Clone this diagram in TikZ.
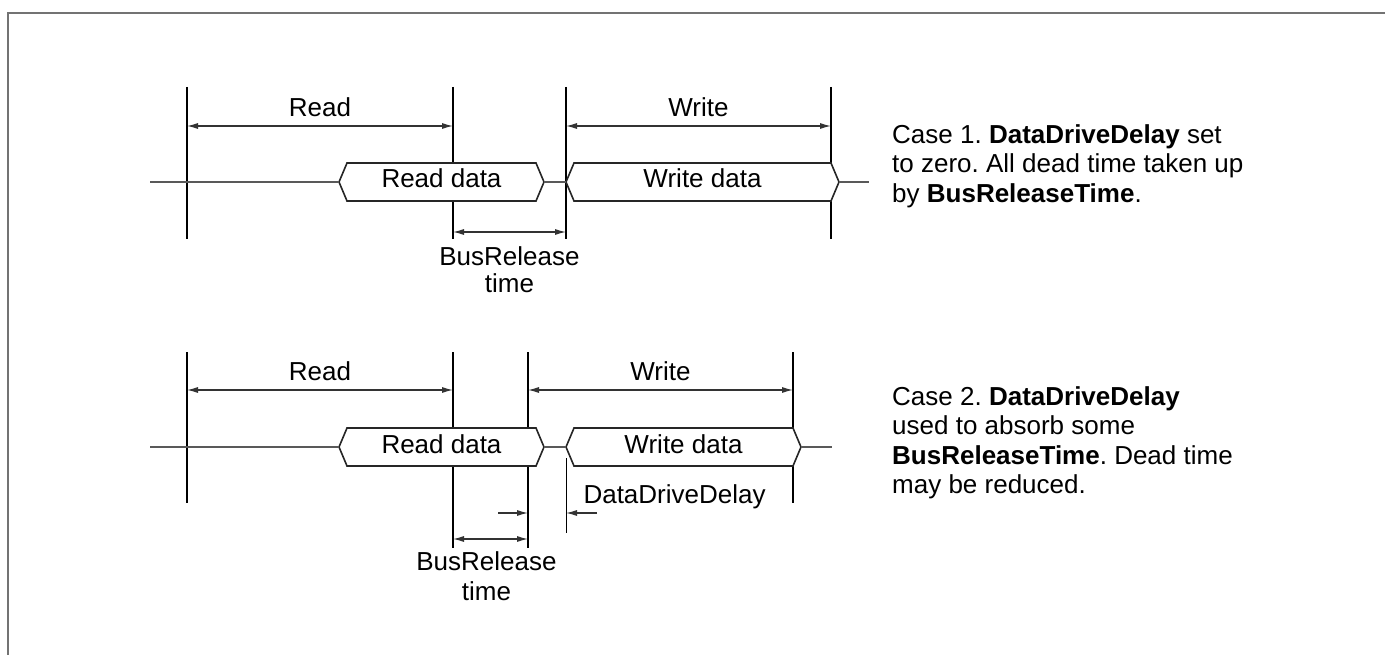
\documentclass[tikz,border=0pt]{standalone}
\usepackage{fontspec}
\setmainfont{Liberation Sans}
\usetikzlibrary{arrows.meta}
\frenchspacing

\tikzset{
 cadre/.style={line width=2.5pt, black!55},
 borne/.style={line width=1.8pt, black},
 repere/.style={line width=1pt, black},
 signal/.style={line width=1.2pt, black!65},
 cote/.style={line width=1.2pt, black!80, {Latex[length=11pt,width=6pt]}-{Latex[length=11pt,width=6pt]}},
 demi/.style={line width=1.2pt, black!80, -{Latex[length=11pt,width=6pt]}},
 busbord/.style={line width=1.6pt, black!85, fill=white},
 texte/.style={text=black, font=\fontsize{26}{29.5}\selectfont},
}

% bus : nom, x gauche, x droite, y, texte
\newcommand{\busdonnees}[5]{%
 \draw[busbord] (#2,#4) -- ({#2+8},{#4-19}) -- ({#3-8},{#4-19}) -- (#3,#4)
  -- ({#3-8},{#4+19}) -- ({#2+8},{#4+19}) -- cycle;
 \coordinate (#1g) at (#2,#4);
 \coordinate (#1d) at (#3,#4);
 \node[texte, anchor=base] (#1) at ({(#2+#3)/2},{#4+6}) {#5};
}

\begin{document}
\begin{tikzpicture}[x=1pt, y=-1pt]
 \useasboundingbox (0,0) rectangle (1385,655);

	% Cadre
 \draw[cadre] (8,655) -- (8,13) -- (1385,13);

	% Cas 1 : bornes
 \coordinate (a1) at (187,87);  \coordinate (a1b) at (187,239);
 \coordinate (b1) at (453,87);  \coordinate (b1b) at (453,239);
 \coordinate (c1) at (566,87);  \coordinate (c1b) at (566,239);
 \coordinate (d1) at (831,87);  \coordinate (d1b) at (831,239);
 \coordinate (hc1) at (0,126);
 \coordinate (hr1) at (0,232);
 \coordinate (g1) at (150,182);
 \coordinate (f1) at (869,182);

 \draw[borne] (a1) -- (a1b);
 \draw[borne] (b1) -- (b1b);
 \draw[borne] (c1) -- (c1b);
 \draw[borne] (d1) -- (d1b);

	% Cas 1 : bus
 \busdonnees{lec1}{339}{544}{182}{Read data}
 \busdonnees{ecr1}{566}{839}{182}{Write data}
 \draw[signal] (g1) -- (lec1g);
 \draw[signal] (lec1d) -- (ecr1g);
 \draw[signal] (ecr1d) -- (f1);

	% Cas 1 : cotes
 \draw[cote] (a1 |- hc1) -- (b1 |- hc1) node[midway, above=5pt, texte] (lire1) {Read};
 \draw[cote] (c1 |- hc1) -- (d1 |- hc1) node[midway, above=5pt, texte] (ecrire1) {Write};
 \draw[cote] (b1 |- hr1) -- (c1 |- hr1) node[midway, below=11pt, texte, align=center] (rel1) {BusRelease\\[-2.5pt]time};

 \node[texte, anchor=north west, inner sep=0, align=left] (cas1) at (892,124)
  {Case 1. \textbf{DataDriveDelay} set\\to zero. All dead time taken up\\by \textbf{BusReleaseTime}.};

	% Cas 2 : bornes
 \coordinate (a2) at (187,352);  \coordinate (a2b) at (187,503);
 \coordinate (b2) at (453,352);  \coordinate (b2b) at (453,548);
 \coordinate (c2) at (528,352);  \coordinate (c2b) at (528,548);
 \coordinate (d2) at (793,352);  \coordinate (d2b) at (793,503);
 \coordinate (e2) at (566,458);  \coordinate (e2b) at (566,533);
 \coordinate (hc2) at (0,390);
 \coordinate (hp2) at (0,513);
 \coordinate (hr2) at (0,539);
 \coordinate (g2) at (150,447);
 \coordinate (f2) at (832,447);
 \coordinate (p2g) at (498,513);
 \coordinate (p2d) at (597,513);

 \draw[borne] (a2) -- (a2b);
 \draw[borne] (b2) -- (b2b);
 \draw[borne] (c2) -- (c2b);
 \draw[borne] (d2) -- (d2b);
 \draw[repere] (e2) -- (e2b);

	% Cas 2 : bus
 \busdonnees{lec2}{339}{544}{447}{Read data}
 \busdonnees{ecr2}{566}{801}{447}{Write data}
 \draw[signal] (g2) -- (lec2g);
 \draw[signal] (lec2d) -- (ecr2g);
 \draw[signal] (ecr2d) -- (f2);

	% Cas 2 : cotes
 \draw[cote] (a2 |- hc2) -- (b2 |- hc2) node[midway, above=5pt, texte] (lire2) {Read};
 \draw[cote] (c2 |- hc2) -- (d2 |- hc2) node[midway, above=5pt, texte] (ecrire2) {Write};
 \draw[cote] (b2 |- hr2) -- (c2 |- hr2) node[midway, below=9pt, xshift=-4pt, texte, align=center] (rel2) {BusRelease\\time};
 \draw[demi] (p2g) -- (c2 |- hp2);
 \draw[demi] (p2d) -- (e2 |- hp2);
 \node[texte, anchor=base west] (ddd) at (580,503) {DataDriveDelay};

 \node[texte, anchor=north west, inner sep=0, align=left] (cas2) at (892,386)
  {Case 2. \textbf{DataDriveDelay}\\used to absorb some\\\textbf{BusReleaseTime}. Dead time\\may be reduced.};

\end{tikzpicture}
\end{document}
